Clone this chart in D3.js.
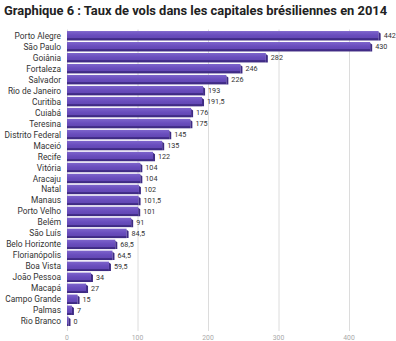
<!DOCTYPE html>
<html>
<head>
<meta charset="utf-8">
<script src="https://cdnjs.cloudflare.com/ajax/libs/d3/7.8.5/d3.min.js"></script>
<style>
  body { margin: 0; background: #fff; }
  text { font-family: Roboto, "Noto Sans", sans-serif; }
</style>
</head>
<body>
<div id="chart"></div>
<script>
const cities = ["Porto Alegre", "São Paulo", "Goiânia", "Fortaleza", "Salvador", "Rio de Janeiro",
  "Curitiba", "Cuiabá", "Teresina", "Distrito Federal", "Maceió", "Recife", "Vitória", "Aracaju",
  "Natal", "Manaus", "Porto Velho", "Belém", "São Luís", "Belo Horizonte", "Florianópolis",
  "Boa Vista", "João Pessoa", "Macapá", "Campo Grande", "Palmas", "Rio Branco"];
const rates = [442, 430, 282, 246, 226, 193, 191.5, 176, 175, 145, 135, 122, 104, 104,
  102, 101.5, 101, 91, 84.5, 68.5, 64.5, 59.5, 34, 27, 15, 7, 0];
const ticks = [0, 100, 200, 300, 400];

const W = 396, H = 341;
const plotLeft = 67, plotRight = 373, plotTop = 29.5, plotBottom = 327.5;

const svg = d3.select("#chart").append("svg")
  .attr("width", W).attr("height", H);

// title
svg.append("text")
  .attr("x", 4).attr("y", 15)
  .attr("font-size", 12.9).attr("font-weight", "bold").attr("fill", "#222")
  .text("Graphique 6 : Taux de vols dans les capitales brésiliennes en 2014");

const x = d3.scaleLinear().domain([0, 434]).range([plotLeft, plotRight]);
const y = d3.scaleBand().domain(cities).range([plotTop, plotBottom]).padding(0.14);

// gradient for the bars
const defs = svg.append("defs");
const grad = defs.append("linearGradient").attr("id", "barGrad")
  .attr("x1", 0).attr("y1", 0).attr("x2", 0).attr("y2", 1);
grad.append("stop").attr("offset", "0%").attr("stop-color", "#7d64cc");
grad.append("stop").attr("offset", "45%").attr("stop-color", "#694dbd");
grad.append("stop").attr("offset", "75%").attr("stop-color", "#6247b4");
grad.append("stop").attr("offset", "76%").attr("stop-color", "#46308e");
grad.append("stop").attr("offset", "100%").attr("stop-color", "#3c2880");

// grid
svg.append("g").selectAll("line").data(ticks).enter().append("line")
  .attr("x1", d => x(d) + 0.5).attr("x2", d => x(d) + 0.5)
  .attr("y1", plotTop).attr("y2", 331)
  .attr("stroke", "#dcdcdc").attr("stroke-width", 1);

// tick labels
svg.append("g").selectAll("text").data(ticks).enter().append("text")
  .attr("x", d => x(d)).attr("y", 339.5)
  .attr("text-anchor", "middle").attr("font-size", 6.8).attr("fill", "#aaa")
  .text(d => d);

// category labels
svg.append("g").selectAll("text").data(cities).enter().append("text")
  .attr("x", plotLeft - 6).attr("y", d => y(d) + y.bandwidth() / 2 + 3)
  .attr("text-anchor", "end").attr("font-size", 8.4).attr("fill", "#333")
  .text(d => d);

const fmt = v => String(v).replace(".", ",");
const rows = cities.map((c, i) => ({ city: c, v: rates[i] }));

const bars = svg.append("g").selectAll("g").data(rows).enter().append("g");

bars.append("rect")
  .attr("x", plotLeft)
  .attr("y", d => y(d.city))
  .attr("width", d => Math.max(1.5, x(d.v) - plotLeft))
  .attr("height", y.bandwidth())
  .attr("fill", "url(#barGrad)");

// darker right end for the 3D look
bars.append("path")
  .attr("d", d => {
    const x1 = Math.max(plotLeft + 1.5, x(d.v)), y0 = y(d.city), h = y.bandwidth();
    return `M${x1},${y0 + 1} L${x1 + 2},${y0 + 2.5} L${x1 + 2},${y0 + h} L${x1},${y0 + h} Z`;
  })
  .attr("fill", "#3e2a84");

bars.append("text")
  .attr("x", d => Math.max(plotLeft + 1.5, x(d.v)) + 5)
  .attr("y", d => y(d.city) + y.bandwidth() / 2 + 2.5)
  .attr("font-size", 7.2).attr("fill", "#333")
  .text(d => fmt(d.v));
</script>
</body>
</html>
